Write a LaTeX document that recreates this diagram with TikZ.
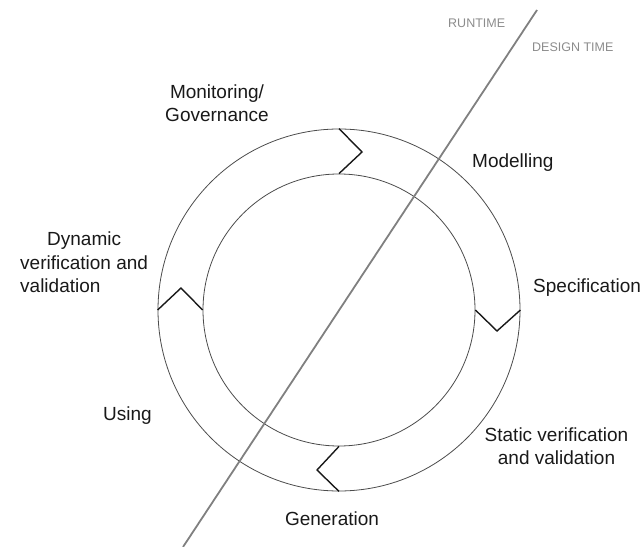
\documentclass[tikz,border=0pt]{standalone}
\usepackage{fontspec}
\setmainfont{Liberation Sans}
\begin{document}
\begin{tikzpicture}[x=1bp,y=-1bp,
  lbl/.style={font=\fontsize{19bp}{23bp}\selectfont, text=black!90, inner sep=0pt, align=center},
  tag/.style={font=\fontsize{12.5bp}{15bp}\selectfont, text=black!45, inner sep=0pt},
  ring/.style={draw=black!70, line width=0.8bp, circle, inner sep=0pt},
  chev/.style={draw=black!90, line width=1.4bp, line join=miter},
  divide/.style={draw=black!50, line width=1.8bp}]
\useasboundingbox (0,0) rectangle (641,547);
\node[ring, minimum size=362bp] (outer) at (339,310) {};
\node[ring, minimum size=272bp] (inner) at (339,310) {};
% chevrons (pointing clockwise)
\draw[chev] (outer.north) -- (362,152) -- (inner.north);
\draw[chev] (outer.east) -- (497,331) -- (inner.east);
\draw[chev] (inner.south) -- (317,470) -- (outer.south);
\draw[chev] (outer.west) -- (181,288) -- (inner.west);
% runtime / design time divider
\coordinate (lb) at (183,547);
\coordinate (lt) at (537,10);
\draw[divide] (lb) -- (lt);
\node[tag, anchor=base west] (run) at (448,28) {RUNTIME};
\node[tag, anchor=base west] (des) at (532,52) {DESIGN TIME};
% labels
\node[lbl, anchor=base] (mon) at (217,122) {Monitoring/\\Governance};
\node[lbl, anchor=base west] (mod) at (472,168) {Modelling};
\node[lbl, anchor=base west] (spec) at (533,292) {Specification};
\node[lbl, anchor=base] (stat) at (556.5,464) {Static verification\\and validation};
\node[lbl, anchor=base] (gen) at (332,525) {Generation};
\node[lbl, anchor=base west] (use) at (103,420) {Using};
\node[lbl, align=left, anchor=base west] (dyn) at (20,292) {\hspace*{27bp}Dynamic\\verification and\\validation};
\end{tikzpicture}
\end{document}
